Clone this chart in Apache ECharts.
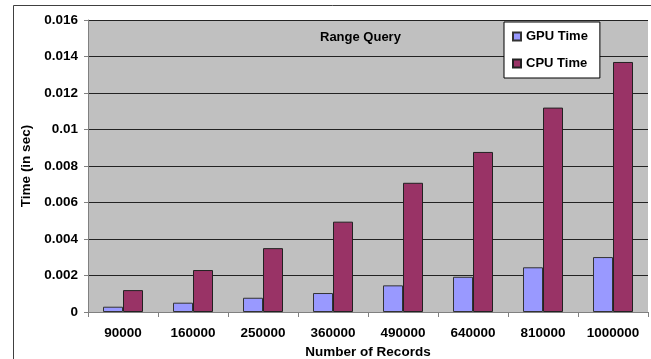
<!DOCTYPE html>
<html>
<head>
<meta charset="utf-8">
<script src="https://cdn.jsdelivr.net/npm/echarts@6/dist/echarts.min.js"></script>
<style>html,body{margin:0;padding:0;background:#fff}#c{width:651px;height:359px}</style>
</head>
<body>
<div id="c"></div>
<script>
const categories = ['90000','160000','250000','360000','490000','640000','810000','1000000'];
const gpuTime = [0.00029, 0.00051, 0.00078, 0.00104, 0.00146, 0.00193, 0.00245, 0.00301];
const cpuTime = [0.0012, 0.0023, 0.0035, 0.00495, 0.00708, 0.00877, 0.0112, 0.0137];
const yTicks = { min: 0, max: 0.016, interval: 0.002 };

const FONT = "'Liberation Sans', Arial, sans-serif";
const chart = echarts.init(document.getElementById('c'));
chart.setOption({
  animation: false,
  backgroundColor: '#fff',
  textStyle: { fontFamily: FONT, color: '#000' },
  title: {
    text: 'Range Query', left: 320, top: 30, padding: 0,
    textStyle: { fontFamily: FONT, fontSize: 13, fontWeight: 'bold', color: '#000', lineHeight: 14 }
  },
  legend: {
    orient: 'vertical', left: 504, top: 22,
    padding: [8, 12, 8, 8],
    itemGap: 14, itemWidth: 8, itemHeight: 8, itemTextGap: 4,
    backgroundColor: '#fff', borderColor: '#000', borderWidth: 1,
    icon: 'rect',
    textStyle: { fontFamily: FONT, fontSize: 13, fontWeight: 'bold', color: '#000', lineHeight: 13 },
    data: ['GPU Time', 'CPU Time']
  },
  grid: {
    left: 88, top: 20, right: 3, bottom: 47,
    outerBoundsMode: 'none', containLabel: false,
    show: true, backgroundColor: '#C0C0C0', borderWidth: 0
  },
  xAxis: {
    type: 'category', data: categories,
    name: 'Number of Records', nameLocation: 'middle', nameGap: 31,
    nameTextStyle: { fontFamily: FONT, fontSize: 13.5, fontWeight: 'bold', color: '#000' },
    axisLine: { lineStyle: { color: '#808080', width: 1 } },
    axisTick: { show: true, length: 5, lineStyle: { color: '#808080' } },
    axisLabel: { fontFamily: FONT, fontSize: 13.5, fontWeight: 'bold', color: '#000', margin: 14 },
    splitLine: { show: false }
  },
  yAxis: {
    type: 'value', min: yTicks.min, max: yTicks.max, interval: yTicks.interval,
    name: 'Time (in sec)', nameLocation: 'middle', nameGap: 52, nameRotate: 90,
    nameTextStyle: { fontFamily: FONT, fontSize: 13.5, fontWeight: 'bold', color: '#000' },
    axisLine: { show: true, lineStyle: { color: '#808080', width: 1 } },
    axisTick: { show: true, length: 4, lineStyle: { color: '#808080' } },
    axisLabel: {
      fontFamily: FONT, fontSize: 13.5, fontWeight: 'bold', color: '#000', margin: 10,
      formatter: v => String(+v.toFixed(3))
    },
    splitLine: { show: true, lineStyle: { color: '#222', width: 1 } }
  },
  series: [
    {
      name: 'GPU Time', type: 'bar', data: gpuTime, barWidth: 20, barGap: '0%',
      itemStyle: { color: '#9999FF', borderColor: '#333', borderWidth: 1 }
    },
    {
      name: 'CPU Time', type: 'bar', data: cpuTime, barWidth: 20, barGap: '0%',
      itemStyle: { color: '#993366', borderColor: '#222', borderWidth: 1 }
    }
  ],
  graphic: [
    {
      type: 'polyline', silent: true,
      shape: { points: [[13.5, 359], [13.5, 5.5], [651, 5.5]] },
      style: { stroke: '#404040', lineWidth: 1, fill: null }
    }
  ]
});
</script>
</body>
</html>
